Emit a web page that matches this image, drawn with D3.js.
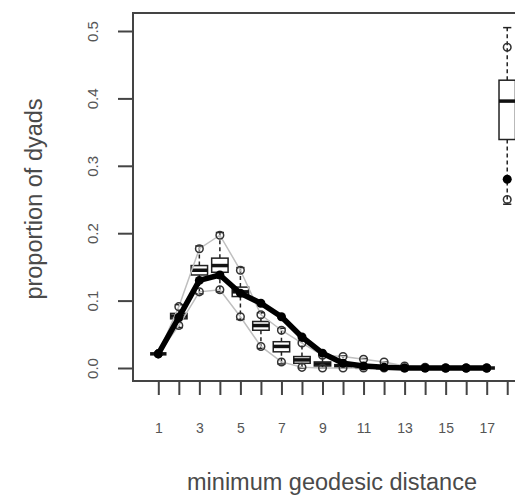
<!DOCTYPE html>
<html>
<head>
<meta charset="utf-8">
<script src="https://cdn.jsdelivr.net/npm/d3@7"></script>
<style>
  body { margin: 0; background: #fff; }
  svg { display: block; font-family: "Liberation Sans", Arial, sans-serif; }
  .axis text { fill: #555; font-size: 14px; }
  .axis line { stroke: #444; stroke-width: 2; }
  .axis path { display: none; }
</style>
</head>
<body>
<div id="chart"></div>
<script>
// geodesic distance 1..17, position 18 = NR (unreachable, label clipped)
var positions = [1, 2, 3, 4, 5, 6, 7, 8, 9, 10, 11, 12, 13, 14, 15, 16, 17, 18];
var tickLabels = [1, 3, 5, 7, 9, 11, 13, 15, 17];

var observed = [0.021, 0.075, 0.130, 0.138, 0.111, 0.096, 0.076, 0.046, 0.022, 0.007, 0.003, 0.001, 0, 0, 0, 0, 0, 0.280];

var q1  = [0.021, 0.073, 0.138, 0.142, 0.106, 0.056, 0.024, 0.007, 0.003, 0.001, 0.0005, 0, 0, 0, 0, 0, 0, 0.339];
var med = [0.021, 0.077, 0.145, 0.152, 0.113, 0.063, 0.032, 0.012, 0.006, 0.003, 0.001, 0.0005, 0, 0, 0, 0, 0, 0.396];
var q3  = [0.021, 0.081, 0.152, 0.163, 0.120, 0.069, 0.039, 0.017, 0.009, 0.005, 0.002, 0.001, 0.0005, 0, 0, 0, 0, 0.427];

var whiskLo = [0.021, 0.060, 0.110, 0.113, 0.072, 0.029, 0.006, 0, 0, 0, 0, 0, 0, 0, 0, 0, 0, 0.243];
var whiskHi = [0.021, 0.094, 0.181, 0.201, 0.149, 0.082, 0.059, 0.040, 0.021, 0.018, 0.014, 0.009, 0.003, 0.001, 0, 0, 0, 0.505];

// 2.5% / 97.5% simulated bounds
var boundLo = [0.021, 0.063, 0.113, 0.116, 0.076, 0.032, 0.009, 0.001, 0, 0, 0, 0, 0, 0, 0, 0, 0, 0.250];
var boundHi = [0.021, 0.091, 0.177, 0.197, 0.145, 0.079, 0.056, 0.037, 0.019, 0.017, 0.013, 0.009, 0.003, 0.001, 0, 0, 0, 0.476];

var width = 515, height = 496;
var box = { left: 133, top: 13, right: 540, bottom: 381 };

var svg = d3.select("#chart").append("svg")
  .attr("width", width)
  .attr("height", height);

var x = d3.scaleLinear().domain([1, 17]).range([158.3, 486.7]);
var y = d3.scaleLinear().domain([0, 0.5]).range([368, 31]);
var step = x(2) - x(1);
var boxW = step * 0.8;

// box plots
var boxes = svg.append("g").attr("class", "boxes");

positions.forEach(function(p, i) {
  let cx = x(p);
  let g = boxes.append("g");

  // whiskers (dashed) and staples
  g.append("line")
    .attr("x1", cx).attr("x2", cx)
    .attr("y1", y(q3[i])).attr("y2", y(whiskHi[i]))
    .attr("stroke", "#222").attr("stroke-width", 1.5)
    .attr("stroke-dasharray", "4,3");
  g.append("line")
    .attr("x1", cx).attr("x2", cx)
    .attr("y1", y(q1[i])).attr("y2", y(whiskLo[i]))
    .attr("stroke", "#222").attr("stroke-width", 1.5)
    .attr("stroke-dasharray", "4,3");
  [whiskHi[i], whiskLo[i]].forEach(function(v) {
    g.append("line")
      .attr("x1", cx - boxW / 4).attr("x2", cx + boxW / 4)
      .attr("y1", y(v)).attr("y2", y(v))
      .attr("stroke", "#222").attr("stroke-width", 1.5);
  });

  g.append("rect")
    .attr("x", cx - boxW / 2)
    .attr("y", y(q3[i]))
    .attr("width", boxW)
    .attr("height", Math.max(0, y(q1[i]) - y(q3[i])))
    .attr("fill", "#fff")
    .attr("stroke", "#222")
    .attr("stroke-width", 1.5);

  g.append("line")
    .attr("x1", cx - boxW / 2).attr("x2", cx + boxW / 2)
    .attr("y1", y(med[i])).attr("y2", y(med[i]))
    .attr("stroke", "#111").attr("stroke-width", 3.5);
});

// gray bound lines (finite distances only)
let finite = positions.slice(0, 17);
let boundLine = (arr) => d3.line()
  .x((d) => x(d))
  .y((d, i) => y(arr[i]));

svg.append("path")
  .datum(finite)
  .attr("d", boundLine(boundHi))
  .attr("fill", "none").attr("stroke", "#bfbfbf").attr("stroke-width", 1.5);
svg.append("path")
  .datum(finite)
  .attr("d", boundLine(boundLo))
  .attr("fill", "none").attr("stroke", "#bfbfbf").attr("stroke-width", 1.5);

// bound circles
[boundHi, boundLo].forEach(function(arr) {
  svg.append("g").selectAll("circle")
    .data(positions)
  .enter().append("circle")
    .attr("cx", (d) => x(d))
    .attr("cy", (d, i) => y(arr[i]))
    .attr("r", 3.8)
    .attr("fill", "none")
    .attr("stroke", "#333")
    .attr("stroke-width", 1.5);
});

// observed: thick line + filled points
svg.append("path")
  .datum(finite)
  .attr("d", d3.line().x((d) => x(d)).y((d, i) => y(observed[i])))
  .attr("fill", "none")
  .attr("stroke", "#000")
  .attr("stroke-width", 5.5)
  .attr("stroke-linejoin", "round");

svg.append("g").selectAll("circle")
  .data(positions)
.enter().append("circle")
  .attr("cx", (d) => x(d))
  .attr("cy", (d, i) => y(observed[i]))
  .attr("r", 4.5)
  .attr("fill", "#000");

// frame
svg.append("rect")
  .attr("x", box.left).attr("y", box.top)
  .attr("width", box.right - box.left)
  .attr("height", box.bottom - box.top)
  .attr("fill", "none")
  .attr("stroke", "#444")
  .attr("stroke-width", 2);

// y axis
let yAxis = svg.append("g")
  .attr("class", "axis")
  .attr("transform", "translate(" + box.left + ",0)")
  .call(d3.axisLeft(y).tickValues([0, 0.1, 0.2, 0.3, 0.4, 0.5]).tickFormat(d3.format(".1f")).tickSize(15).tickPadding(0));

// R style: labels parallel to the axis
yAxis.selectAll("text")
  .attr("x", null).attr("dy", "0.35em")
  .attr("text-anchor", "middle")
  .style("font-size", "15px")
  .attr("transform", "translate(-40,0) rotate(-90)");

// x axis
let xAxis = svg.append("g")
  .attr("class", "axis")
  .attr("transform", "translate(0," + box.bottom + ")")
  .call(d3.axisBottom(x).tickValues(positions).tickFormat((d) => tickLabels.includes(d) ? d : "").tickSize(14).tickPadding(28));

// axis titles
svg.append("text")
  .attr("x", 332).attr("y", 490)
  .attr("text-anchor", "middle")
  .attr("fill", "#4a4a4a")
  .style("font-size", "23.5px")
  .text("minimum geodesic distance");

svg.append("text")
  .attr("transform", "translate(42,199) rotate(-90)")
  .attr("text-anchor", "middle")
  .attr("fill", "#4a4a4a")
  .style("font-size", "23.5px")
  .text("proportion of dyads");
</script>
</body>
</html>
